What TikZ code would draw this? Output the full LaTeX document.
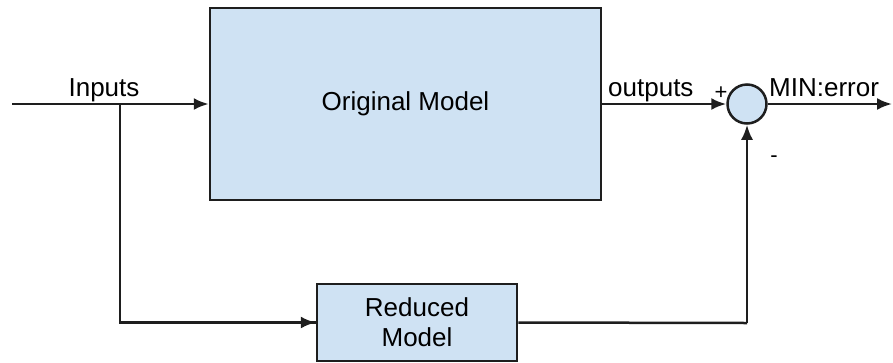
\documentclass[tikz,border=0pt]{standalone}
\usepackage{fontspec}
\setmainfont{Liberation Sans}
\usetikzlibrary{arrows.meta}
\definecolor{boxfill}{HTML}{CFE2F3}
\definecolor{edge}{HTML}{1E1E1E}
\begin{document}
\begin{tikzpicture}[x=1pt,y=-1pt,
  blk/.style={draw=edge,fill=boxfill,line width=2.5pt,inner sep=0pt,font=\fontsize{26}{30}\selectfont,align=center},
  sumc/.style={circle,draw=edge,fill=boxfill,line width=2.5pt,minimum size=39pt,inner sep=0pt},
  conn/.style={draw=edge,line width=2.5pt},
  arr/.style={conn,-{Latex[length=15pt,width=12pt]}},
  lbl/.style={font=\fontsize{26}{30}\selectfont,inner sep=0pt}]
\useasboundingbox (0,0) rectangle (893,362);
\node[blk,minimum width=391pt,minimum height=192pt] (orig) at (405.5,104) {Original Model};
\node[blk,minimum width=200pt,minimum height=77pt] (red) at (417,322.5) {Reduced\\Model};
\node[sumc] (sum) at (747,104) {};
\coordinate (in) at (12,104);
\coordinate (br) at (120,104);
\coordinate (out) at (892,104);
\coordinate (rc) at (747,323);
\draw[arr] (in) -- (orig.west|-in);
\draw[conn] (br) |- (red.west);
\draw[arr] (br|-red.west) -- (red.west);
\draw[arr] (orig.east|-sum) -- (sum.west);
\draw[conn] (red.east) -- (rc);
\draw[arr] (rc) -- (sum.south);
\draw[arr] (sum.east) -- (out);
\node[lbl,anchor=base] (tin) at (104,96) {Inputs};
\node[lbl,anchor=base west] (tout) at (608,96) {outputs};
\node[lbl,anchor=base] (tplus) at (721,99) {\fontsize{22}{24}\selectfont +};
\node[lbl,anchor=base west] (terr) at (769,96) {MIN:error};
\node[lbl,anchor=base] (tminus) at (774,162) {\fontsize{22}{24}\selectfont -};
\end{tikzpicture}
\end{document}
